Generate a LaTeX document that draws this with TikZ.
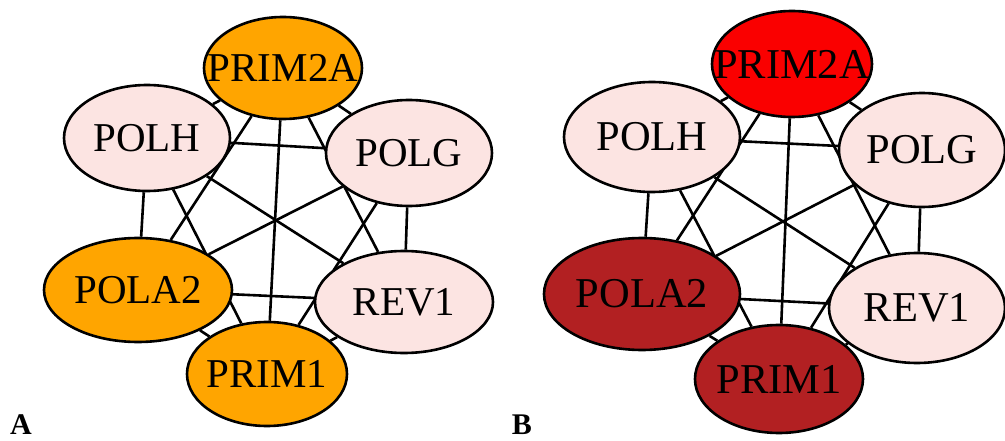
\documentclass[tikz,border=0pt]{standalone}
\usepackage{fontspec}
\setmainfont{Liberation Serif}
\usetikzlibrary{shapes.geometric,backgrounds}
\definecolor{pinkn}{RGB}{252,228,226}
\definecolor{orangen}{RGB}{255,165,0}
\definecolor{redn}{RGB}{250,0,0}
\definecolor{darkredn}{RGB}{178,32,34}
\tikzset{
  gene/.style={ellipse, draw=black, line width=2.6pt, inner sep=0pt, font=\fontsize{41}{41}\selectfont},
  geneb/.style={gene, font=\fontsize{42.5}{42.5}\selectfont},
  link/.style={draw=black, line width=2.6pt},
  panel/.style={font=\bfseries\fontsize{30}{30}\selectfont, inner sep=0pt}
}
\newcommand{\gtxt}[1]{\makebox[0pt]{#1}}
\begin{document}
\begin{tikzpicture}[x=1pt,y=-1pt]
\useasboundingbox (0,0) rectangle (1005,441);
% Panel A
\node[gene, fill=orangen, minimum width=158pt, minimum height=102pt] (a1) at (283,68) {\gtxt{PRIM2A}};
\node[gene, fill=pinkn, minimum width=166pt, minimum height=106pt] (a2) at (147,138) {\gtxt{POLH}};
\node[gene, fill=pinkn, minimum width=166pt, minimum height=106pt] (a3) at (409,153) {\gtxt{POLG}};
\node[gene, fill=orangen, minimum width=188pt, minimum height=104pt] (a4) at (138,290) {\gtxt{POLA2}};
\node[gene, fill=pinkn, minimum width=178pt, minimum height=102pt] (a5) at (404,302) {\gtxt{REV1}};
\node[gene, fill=orangen, minimum width=160pt, minimum height=104pt] (a6) at (267,374) {\gtxt{PRIM1}};
% Panel B
\node[geneb, fill=redn, minimum width=160pt, minimum height=106pt] (b1) at (792,64) {\gtxt{PRIM2A}};
\node[geneb, fill=pinkn, minimum width=176pt, minimum height=110pt] (b2) at (652,137) {\gtxt{POLH}};
\node[geneb, fill=pinkn, minimum width=166pt, minimum height=114pt] (b3) at (922,150) {\gtxt{POLG}};
\node[geneb, fill=darkredn, minimum width=196pt, minimum height=112pt] (b4) at (642,294) {\gtxt{POLA2}};
\node[geneb, fill=pinkn, minimum width=176pt, minimum height=110pt] (b5) at (917,308) {\gtxt{REV1}};
\node[geneb, fill=darkredn, minimum width=168pt, minimum height=108pt] (b6) at (779,379) {\gtxt{PRIM1}};
\begin{scope}[on background layer]
\foreach \p in {a,b}{
  \draw[link] (\p1) -- (\p2);
  \draw[link] (\p1) -- (\p3);
  \draw[link] (\p1) -- (\p4);
  \draw[link] (\p1) -- (\p5);
  \draw[link] (\p1) -- (\p6);
  \draw[link] (\p2) -- (\p3);
  \draw[link] (\p2) -- (\p4);
  \draw[link] (\p2) -- (\p5);
  \draw[link] (\p2) -- (\p6);
  \draw[link] (\p3) -- (\p4);
  \draw[link] (\p3) -- (\p5);
  \draw[link] (\p3) -- (\p6);
  \draw[link] (\p4) -- (\p5);
  \draw[link] (\p4) -- (\p6);
  \draw[link] (\p5) -- (\p6);
}
\end{scope}
\node[panel] (la) at (21,425) {A};
\node[panel] (lb) at (522,425) {B};
\end{tikzpicture}
\end{document}
